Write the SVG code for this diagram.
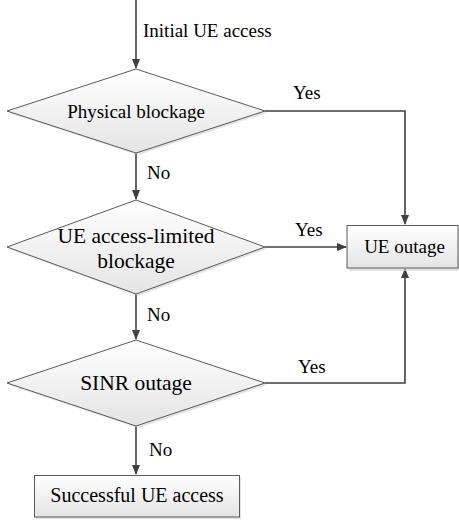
<svg xmlns="http://www.w3.org/2000/svg" width="459" height="520" viewBox="0 0 459 520" font-family="'Liberation Serif', 'Times New Roman', 'DejaVu Serif', serif">
<style>
.shape{fill:url(#g);stroke:#5a5a5a;stroke-width:1}
.shadow{fill:#d0d0d0;stroke:none;opacity:0.6}
.conn{fill:none;stroke:#404040;stroke-width:1.6}
text{font-family:'Liberation Serif','Times New Roman','DejaVu Serif',serif;fill:#000}
.c{text-anchor:middle}
</style>
<defs>
<linearGradient id="g" x1="0" y1="0" x2="0" y2="1">
<stop offset="0" stop-color="#ffffff"/>
<stop offset="1" stop-color="#e4e4e4"/>
</linearGradient>
<marker id="a" markerWidth="10" markerHeight="10" refX="9" refY="5" orient="auto" markerUnits="userSpaceOnUse">
<path d="M0,1 L10,5 L0,9 Z" fill="#404040"/>
</marker>
</defs>
<g id="connectors">
<path class="conn" d="M136,0 V68" marker-end="url(#a)"/>
<path class="conn" d="M136,153 V199" marker-end="url(#a)"/>
<path class="conn" d="M136,294 V339" marker-end="url(#a)"/>
<path class="conn" d="M136,426 V474" marker-end="url(#a)"/>
<path class="conn" d="M265,111 H405 V224" marker-end="url(#a)"/>
<path class="conn" d="M265,247 H346" marker-end="url(#a)"/>
<path class="conn" d="M265,383 H405 V269" marker-end="url(#a)"/>
<text x="143" y="37" font-size="19">Initial UE access</text>
<text x="147" y="179" font-size="19">No</text>
<text x="147" y="321" font-size="19">No</text>
<text x="149" y="456" font-size="19">No</text>
<text x="293" y="99" font-size="19">Yes</text>
<text x="295" y="236" font-size="19">Yes</text>
<text x="298" y="373" font-size="19">Yes</text>
</g>
<g id="physical-blockage">
<polygon class="shadow" points="138,71 267,113 138,155 9,113"/>
<polygon class="shape" points="136,69 265,111 136,153 7,111"/>
<text class="c" x="136" y="118" font-size="19">Physical blockage</text>
</g>
<g id="access-limited-blockage">
<polygon class="shadow" points="138,202 267,249 138,296 9,249"/>
<polygon class="shape" points="136,200 265,247 136,294 7,247"/>
<text class="c" x="136" y="243" font-size="21.5">UE access-limited</text>
<text class="c" x="136" y="268" font-size="21.5">blockage</text>
</g>
<g id="sinr-outage">
<polygon class="shadow" points="138,342 267,385 138,428 9,385"/>
<polygon class="shape" points="136,340 265,383 136,426 7,383"/>
<text class="c" x="136" y="390" font-size="21.5">SINR outage</text>
</g>
<g id="ue-outage">
<rect class="shadow" x="349" y="228" width="110" height="43"/>
<rect class="shape" x="347" y="225.5" width="111" height="42.5"/>
<text class="c" x="404.5" y="253" font-size="19">UE outage</text>
</g>
<g id="successful-access">
<rect class="shadow" x="36" y="477" width="205" height="42"/>
<rect class="shape" x="34.5" y="475.5" width="205" height="41.5"/>
<text class="c" x="137" y="502" font-size="20">Successful UE access</text>
</g>
</svg>
